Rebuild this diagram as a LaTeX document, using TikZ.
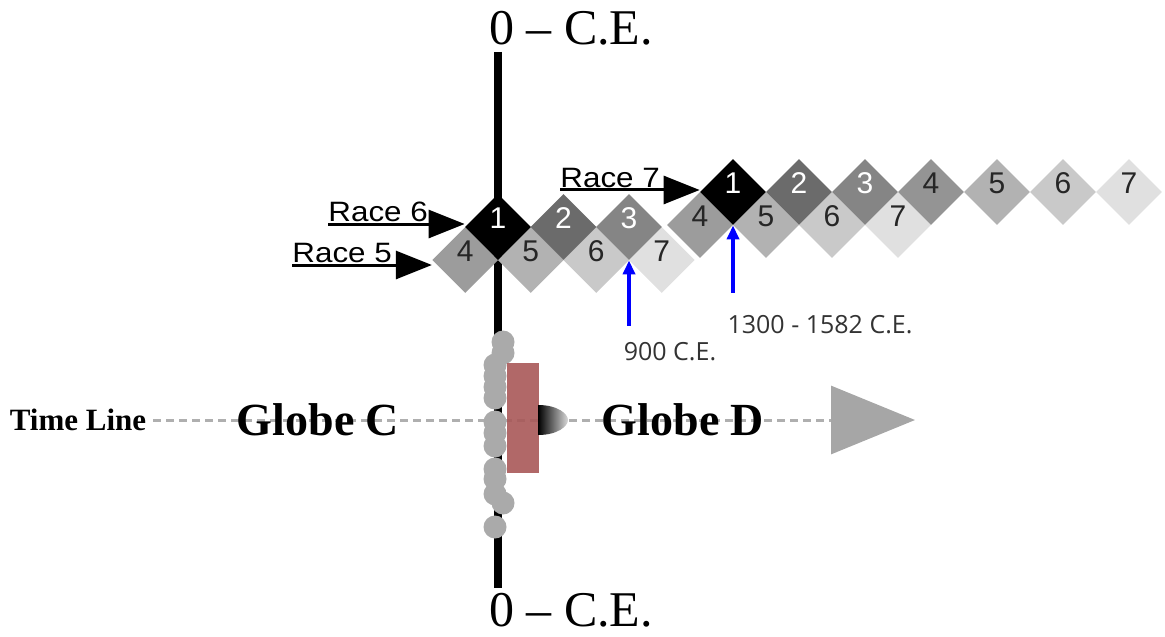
\documentclass[tikz,border=0pt]{standalone}
\usepackage{fontspec}
\setmainfont{Liberation Serif}
\newfontfamily\arialf{Liberation Sans}
\newfontfamily\opensf{Open Sans}
\usetikzlibrary{shapes.geometric,arrows.meta}
\definecolor{brick}{RGB}{168,88,88}
\definecolor{tlgray}{RGB}{175,175,175}
\definecolor{tipgray}{RGB}{166,166,166}
\definecolor{dotgray}{RGB}{170,170,170}
\tikzset{
  tile/.style={diamond,aspect=1,minimum size=33pt,inner sep=0pt,
    font=\arialf\fontsize{15}{15}\selectfont,text height=10.7pt,text depth=9pt},
  racelbl/.style={anchor=south west,inner xsep=0pt,inner ysep=1pt,xscale=1.12,
    font=\arialf\fontsize{14}{14}\selectfont},
  racearrow/.style={line width=1.5pt,-{Triangle[length=18pt,width=14pt]}},
  datearrow/.style={blue,line width=2pt,-{Triangle[length=7pt,width=6pt]}},
  datelbl/.style={text=black!80,font=\opensf\fontsize{12.5}{13}\selectfont},
  globe/.style={font=\bfseries\fontsize{23}{24}\selectfont},
  dot/.style={circle,fill=dotgray,minimum size=11.5pt,inner sep=0pt}
}
\begin{document}
\begin{tikzpicture}[x=0.5pt,y=-0.5pt]
\useasboundingbox (0,0) rectangle (1165,636);

\node[font=\fontsize{25}{26}\selectfont] (cetop) at (571,28) {0 -- C.E.};
\node[font=\fontsize{25}{26}\selectfont] (cebot) at (571,610) {0 -- C.E.};
\coordinate (axtop) at (498,52);
\coordinate (axbot) at (498,588);
\draw[line width=4pt] (axtop) -- (axbot);

\node[font=\bfseries\fontsize{15.5}{16}\selectfont] (tl) at (78,420) {Time Line};
\coordinate (tlend) at (915,420);
\draw[tlgray,line width=1.5pt,dash pattern=on 4pt off 2.5pt,
  -{Triangle[length=42pt,width=34pt,color=tipgray]}] (tl.east) -- (tlend);
\node[globe] (gc) at (318,420) {Globe C};
\node[globe] (gd) at (683,420) {Globe D};

\foreach \n/\y in {1/342,2/353,3/365,4/376,5/387,6/398,7/422,8/433,9/446,10/469,11/479,12/494,13/503,14/527}
\node[dot] (c\n) at ({\n==1||\n==2||\n==13 ? 503 : 495},\y) {};
\fill[brick,opacity=0.9] (507,363) rectangle (539,473);
\shade[left color=black,right color=black!15] (538,405) .. controls (558,405) and (568,414) .. (568,420)
  .. controls (568,426) and (558,435) .. (538,435) -- cycle;

\foreach \n/\x/\c/\t in {4/465.25/black!39/black!85,5/530.75/black!30/black!85,6/596.25/black!21/black!85,7/661.75/black!12/black!85}
\node[tile,fill=\c,text=\t] (a\n) at (\x,260) {\n};
\foreach \n/\x/\c/\t in {1/498/black/white,2/563.5/black!58/white,3/629/black!48/white}
\node[tile,fill=\c,text=\t] (a\n) at (\x,227) {\n};

\foreach \n/\x/\c/\t in {4/700/black!39/black!85,5/766/black!30/black!85,6/832/black!21/black!85,7/898/black!12/black!85}
\node[tile,fill=\c,text=\t] (b\n) at (\x,225) {\n};
\foreach \n/\x/\c/\t in {1/733/black/white,2/799/black!58/white,3/865/black!48/white,4/931/black!42/black!85,5/997/black!30/black!85,6/1063/black!21/black!85,7/1129/black!12/black!85}
\node[tile,fill=\c,text=\t] (u\n) at (\x,192) {\n};

\node[racelbl] (race6) at (328,224) {Race 6};
\node[racelbl] (race5) at (292,265) {Race 5};
\node[racelbl] (race7) at (560,190) {Race 7};
\draw[racearrow] (race6.south west) -- (race6.south west -| a1.west);
\draw[racearrow] (race5.south west) -- (race5.south west -| a4.west);
\draw[racearrow] (race7.south west) -- (race7.south west -| u1.west);

\node[datelbl] (d900) at (670,352) {900 C.E.};
\node[datelbl] (d1300) at (820,325) {1300 - 1582 C.E.};
\draw[datearrow] ([yshift=5pt]d900.north -| a3.south) -- (a3.south);
\draw[datearrow] ([yshift=8pt]d1300.north -| u1.south) -- (u1.south);
\end{tikzpicture}
\end{document}
